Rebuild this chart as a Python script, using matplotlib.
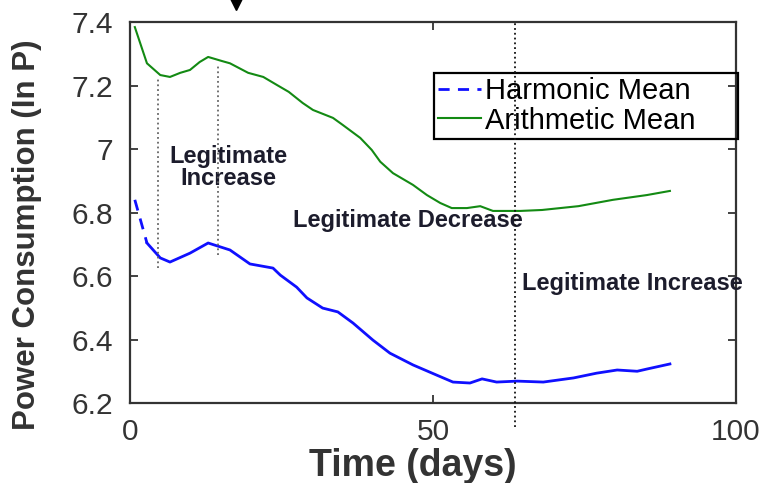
import numpy as np
import matplotlib.pyplot as plt
from matplotlib.lines import Line2D

plt.rcParams['font.family'] = ['Liberation Sans', 'DejaVu Sans']

# daily mean power consumption (log scale)
days_arith = [0.8, 2.8, 5.0, 6.6, 8.3, 9.9, 11.5, 12.9, 15.2, 16.5, 19.5, 22.0, 24.4,
              26.2, 28.5, 30.2, 33.5, 35.1, 38.0, 39.9, 41.3, 43.4, 46.7, 49.0, 51.2,
              53.1, 55.6, 57.8, 59.9, 64.4, 68.0, 74.0, 79.7, 85.3, 89.1]
arith_mean = [7.384, 7.27, 7.233, 7.227, 7.24, 7.249, 7.274, 7.29, 7.277, 7.27, 7.24,
              7.227, 7.2, 7.18, 7.145, 7.123, 7.098, 7.076, 7.035, 6.997, 6.96, 6.924,
              6.887, 6.855, 6.83, 6.814, 6.814, 6.82, 6.805, 6.805, 6.808, 6.82, 6.84,
              6.855, 6.868]

days_harm = [0.8, 2.8, 5.0, 6.6, 9.9, 12.9, 16.5, 19.8, 23.6, 24.8, 27.5, 29.2, 31.8,
             34.3, 36.8, 40.1, 42.9, 46.7, 50.6, 53.3, 56.1, 58.1, 60.5, 63.9, 68.2,
             73.2, 77.0, 80.4, 83.7, 85.3, 89.1]
harm_mean = [6.84, 6.704, 6.657, 6.644, 6.672, 6.704, 6.682, 6.638, 6.625, 6.603, 6.565,
             6.531, 6.499, 6.487, 6.452, 6.398, 6.357, 6.32, 6.288, 6.266, 6.263, 6.276,
             6.266, 6.269, 6.266, 6.279, 6.294, 6.304, 6.30, 6.307, 6.323]

# change points: (day, y from, y to)
change_days = [4.6, 14.5, 63.5]
change_lo = [6.625, 6.666, 6.124]
change_hi = [7.224, 7.265, 7.4]

labels = ["Legitimate\nIncrease", "Legitimate Decrease", "Legitimate Increase"]
label_x = [16.3, 26.9, 64.7]
label_y = [6.942, 6.776, 6.578]

fig = plt.figure(figsize=(7.61, 4.83), dpi=100)
ax = fig.add_axes([0.1708, 0.1656, 0.7963, 0.7888])

ax.plot(days_harm[:2], harm_mean[:2], color='#1010ff', lw=2, ls=(0, (4, 3)))
ax.plot(days_harm[1:], harm_mean[1:], color='#1010ff', lw=2)
ax.plot(days_arith, arith_mean, color='#138a13', lw=1.5)

# legend handles
ax.plot([], [], color='#1010ff', lw=2, ls=(0, (4, 3)), label='Harmonic Mean')
ax.plot([], [], color='#138a13', lw=1.5, label='Arithmetic Mean')
hs, ls_ = ax.get_legend_handles_labels()

line_cols = ['#666666', '#666666', '#111111']
for d, lo, hi, c in zip(change_days, change_lo, change_hi, line_cols):
    ax.plot([d, d], [lo, hi], color=c, ls=':', lw=1.3, clip_on=False, zorder=6)

ha = ['center', 'left', 'left']
for t, x, y, h in zip(labels, label_x, label_y, ha):
    ax.text(x, y, t, ha=h, va='center', fontsize=17, fontweight='bold',
            color='#1c1c2c', linespacing=0.95, clip_on=False)

ax.set_xlim(0, 100)
ax.set_ylim(6.2, 7.4)
ax.set_xticks([0, 50, 100])
ax.set_yticks([6.2, 6.4, 6.6, 6.8, 7.0, 7.2, 7.4])
ax.set_yticklabels(['6.2', '6.4', '6.6', '6.8', '7', '7.2', '7.4'])
ax.tick_params(direction='in', length=6, width=1.3, colors='#333333',
               labelsize=21.5, top=True, right=True)
ax.tick_params(axis='y', pad=12)
ax.tick_params(axis='x', pad=11)
for s in ax.spines.values():
    s.set_linewidth(1.6)
    s.set_color('#333333')

ax.set_xlabel('Time (days)', fontsize=27, fontweight='bold', color='#333333')
ax.set_ylabel('Power Consumption (In P)', fontsize=22.5, fontweight='bold',
              color='#333333')
ax.xaxis.label.set_va('center')
ax.yaxis.label.set_va('center')
ax.yaxis.label.set_ha('center')
ax.xaxis.set_label_coords(0.466, -0.165)
ax.yaxis.set_label_coords(-0.170, 0.442)

leg = ax.legend(hs[-2:], ls_[-2:], loc='upper left',
                bbox_to_anchor=(0.5017, 0.866, 0.5016, 0.001), mode='expand',
                fontsize=21, frameon=True, fancybox=False, handlelength=1.45,
                handletextpad=0.15, borderpad=0.15, labelspacing=0.05,
                borderaxespad=0, framealpha=1, facecolor='none', edgecolor='black')
leg.get_frame().set_linewidth(1.6)
leg.set_zorder(4)

# marker above the axes
fig.add_artist(Line2D([236 / 761], [1 - 4 / 483], marker='v', markersize=9,
                      color='black', transform=fig.transFigure))

fig.savefig('out.png', dpi=100)
